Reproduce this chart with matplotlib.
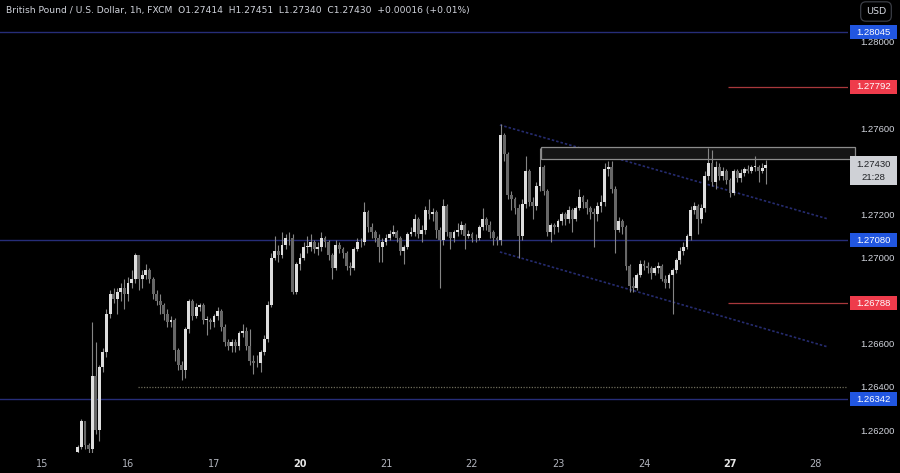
import matplotlib
matplotlib.use("Agg")
import matplotlib.pyplot as plt
import matplotlib.transforms as mtransforms
import numpy as np
from matplotlib.patches import Rectangle

# GBP/USD 1h candles, bar index counted in hours from the 15th 00:00
start_bar = 10
first_open = 1.2610
closes = [
    1.2612, 1.2624, 1.2613, 1.2611, 1.2645, 1.2620, 1.2649, 1.2656, 1.2674, 1.2683,
    1.2681, 1.2684, 1.2686, 1.2683, 1.2688, 1.2690, 1.2701, 1.2690, 1.2692, 1.2694,
    1.2690, 1.2683, 1.2680, 1.2678, 1.2674, 1.2670, 1.2671, 1.2657, 1.2650, 1.2648,
    1.2667, 1.2680, 1.2673, 1.2677, 1.2678, 1.2671, 1.2671, 1.2670, 1.2673, 1.2675,
    1.2668, 1.2661, 1.2659, 1.2661, 1.2659, 1.2665, 1.2666, 1.2659, 1.2652, 1.2651,
    1.2651, 1.2656, 1.2662, 1.2678, 1.2700, 1.2703, 1.2701, 1.2706, 1.2709, 1.2709,
    1.2684, 1.2697, 1.2700, 1.2705, 1.2705, 1.2707, 1.2704, 1.2705, 1.2709, 1.2707,
    1.2701, 1.2695, 1.2706, 1.2704, 1.2702, 1.2696, 1.2695, 1.2704, 1.2707, 1.2707,
    1.2721, 1.2714, 1.2712, 1.2709, 1.2705, 1.2707, 1.2709, 1.2711, 1.2712, 1.2709,
    1.2703, 1.2705, 1.2711, 1.2712, 1.2718, 1.2711, 1.2713, 1.2722, 1.2720, 1.2721,
    1.2713, 1.2708, 1.2724, 1.2712, 1.2709, 1.2712, 1.2713, 1.2715, 1.2710, 1.2711,
    1.2709, 1.2709, 1.2714, 1.2718, 1.2715, 1.2712, 1.2709, 1.2708, 1.2757, 1.2748,
    1.2729, 1.2727, 1.2723, 1.2710, 1.2725, 1.2740, 1.2726, 1.2724, 1.2733, 1.2742,
    1.2731, 1.2712, 1.2715, 1.2714, 1.2717, 1.2720, 1.2718, 1.2722, 1.2718, 1.2723,
    1.2728, 1.2726, 1.2723, 1.2721, 1.2720, 1.2724, 1.2726, 1.2741, 1.2742, 1.2732,
    1.2713, 1.2717, 1.2714, 1.2696, 1.2687, 1.2686, 1.2692, 1.2697, 1.2696, 1.2695,
    1.2693, 1.2695, 1.2696, 1.2690, 1.2688, 1.2692, 1.2694, 1.2699, 1.2703, 1.2705,
    1.2710, 1.2722, 1.2724, 1.2718, 1.2723, 1.2738, 1.2744, 1.2735, 1.2742, 1.2738,
    1.2740, 1.2736, 1.2730, 1.2740, 1.2737, 1.2739, 1.2741, 1.2740, 1.2742, 1.2742,
    1.2740, 1.27414, 1.27430,
]
highs = [
    1.2613, 1.2625, 1.2624, 1.2614, 1.2670, 1.2661, 1.2650, 1.2658, 1.2676, 1.2685,
    1.2686, 1.2686, 1.2688, 1.2690, 1.2691, 1.2694, 1.2702, 1.2701, 1.2694, 1.2697,
    1.2695, 1.2691, 1.2685, 1.2683, 1.2679, 1.2676, 1.2673, 1.2672, 1.2658, 1.2652,
    1.2668, 1.2681, 1.2681, 1.2679, 1.2679, 1.2679, 1.2673, 1.2672, 1.2674, 1.2677,
    1.2676, 1.2669, 1.2662, 1.2662, 1.2662, 1.2666, 1.2669, 1.2668, 1.2667, 1.2655,
    1.2655, 1.2657, 1.2664, 1.2680, 1.2702, 1.2710, 1.2706, 1.2712, 1.2711, 1.2712,
    1.2711, 1.2698, 1.2702, 1.2707, 1.2710, 1.2711, 1.2708, 1.2707, 1.2712, 1.2710,
    1.2708, 1.2702, 1.2708, 1.2707, 1.2705, 1.2703, 1.2698, 1.2705, 1.2709, 1.2709,
    1.2726, 1.2722, 1.2716, 1.2713, 1.2711, 1.2709, 1.2711, 1.2713, 1.2715, 1.2713,
    1.2710, 1.2706, 1.2712, 1.2714, 1.2720, 1.2719, 1.2715, 1.2724, 1.2727, 1.2723,
    1.2722, 1.2714, 1.2727, 1.2725, 1.2712, 1.2713, 1.2716, 1.2717, 1.2716, 1.2713,
    1.2712, 1.2711, 1.2715, 1.2723, 1.2719, 1.2717, 1.2713, 1.2710, 1.2762, 1.2758,
    1.2749, 1.2731, 1.2728, 1.2725, 1.2727, 1.2747, 1.2741, 1.2728, 1.2735, 1.2751,
    1.2743, 1.2732, 1.2716, 1.2716, 1.2718, 1.2721, 1.2721, 1.2724, 1.2723, 1.2724,
    1.2732, 1.2729, 1.2727, 1.2724, 1.2723, 1.2726, 1.2729, 1.2744, 1.2745, 1.2745,
    1.2733, 1.2719, 1.2718, 1.2715, 1.2697, 1.2691, 1.2693, 1.2699, 1.2699, 1.2698,
    1.2696, 1.2696, 1.2698, 1.2697, 1.2692, 1.2693, 1.2695, 1.2700, 1.2705, 1.2707,
    1.2711, 1.2724, 1.2726, 1.2725, 1.2725, 1.2740, 1.2751, 1.2750, 1.2745, 1.2744,
    1.2742, 1.2741, 1.2737, 1.2741, 1.2741, 1.2741, 1.2742, 1.2743, 1.2743, 1.2747,
    1.2743, 1.2744, 1.27451,
]
lows = [
    1.2608, 1.2611, 1.2611, 1.2609, 1.2609, 1.2618, 1.2615, 1.2647, 1.2654, 1.2672,
    1.2679, 1.2674, 1.2680, 1.2676, 1.2680, 1.2686, 1.2688, 1.2685, 1.2686, 1.2690,
    1.2688, 1.2681, 1.2678, 1.2674, 1.2671, 1.2668, 1.2668, 1.2652, 1.2648, 1.2643,
    1.2644, 1.2665, 1.2671, 1.2672, 1.2675, 1.2669, 1.2664, 1.2667, 1.2668, 1.2671,
    1.2666, 1.2659, 1.2657, 1.2656, 1.2656, 1.2657, 1.2663, 1.2657, 1.2650, 1.2646,
    1.2649, 1.2647, 1.2655, 1.2661, 1.2677, 1.2699, 1.2698, 1.2700, 1.2704, 1.2706,
    1.2683, 1.2683, 1.2694, 1.2699, 1.2702, 1.2703, 1.2702, 1.2701, 1.2703, 1.2705,
    1.2699, 1.2690, 1.2694, 1.2702, 1.2700, 1.2694, 1.2692, 1.2694, 1.2703, 1.2705,
    1.2706, 1.2712, 1.2709, 1.2707, 1.2698, 1.2698, 1.2706, 1.2708, 1.2710, 1.2707,
    1.2701, 1.2697, 1.2704, 1.2710, 1.2710, 1.2709, 1.2707, 1.2711, 1.2718, 1.2717,
    1.2709, 1.2686, 1.2706, 1.2710, 1.2704, 1.2707, 1.2710, 1.2711, 1.2704, 1.2709,
    1.2707, 1.2707, 1.2708, 1.2713, 1.2713, 1.2709, 1.2706, 1.2706, 1.2706, 1.2745,
    1.2727, 1.2722, 1.2720, 1.2700, 1.2708, 1.2723, 1.2724, 1.2718, 1.2722, 1.2731,
    1.2729, 1.2710, 1.2707, 1.2711, 1.2712, 1.2715, 1.2715, 1.2716, 1.2712, 1.2717,
    1.2722, 1.2723, 1.2720, 1.2718, 1.2705, 1.2717, 1.2721, 1.2724, 1.2738, 1.2730,
    1.2702, 1.2712, 1.2711, 1.2694, 1.2684, 1.2684, 1.2685, 1.2691, 1.2694, 1.2693,
    1.2690, 1.2692, 1.2693, 1.2689, 1.2686, 1.2686, 1.2674, 1.2693, 1.2697, 1.2701,
    1.2704, 1.2708, 1.2720, 1.2711, 1.2716, 1.2721, 1.2736, 1.2733, 1.2732, 1.2736,
    1.2736, 1.2734, 1.2728, 1.2729, 1.2735, 1.2735, 1.2738, 1.2739, 1.2739, 1.2740,
    1.2735, 1.2739, 1.27340,
]

day_labels = ["15", "16", "17", "20", "21", "22", "23", "24", "27", "28"]
week_start_days = ["20", "27"]
bars_per_day = 24

price_ticks = [1.262, 1.264, 1.266, 1.270, 1.272, 1.276, 1.280]
blue_levels = [1.28045, 1.27080, 1.26342]
red_levels = [1.27792, 1.26788]
red_start_bar = 191.5
dotted_level = 1.26400
dotted_start_bar = 26.8
channel_bars = [127.8, 219.4]
channel_top = [1.27615, 1.27179]
channel_bottom = [1.27026, 1.26585]
box_bars = [139.3, 227.0]
box_prices = [1.27457, 1.27513]
last_price = 1.27430
countdown = "21:28"
header = ("British Pound / U.S. Dollar, 1h, FXCM  O1.27414  H1.27451  "
          "L1.27340  C1.27430  +0.00016 (+0.01%)")

UP = "#dedede"
DOWN = "#676767"
WICK = "#858585"
BLUE_LINE = "#262d78"
CHANNEL = "#262c70"
BLUE_TAG = "#2156e0"
RED_LINE = "#a8383c"
RED_TAG = "#ee3b4b"
TEXT = "#d1d4dc"

W, H = 900, 473
fig = plt.figure(figsize=(W / 100, H / 100), dpi=100, facecolor="black")
ax = fig.add_axes([0, 20 / H, 848 / W, 453 / H])
ax.set_facecolor("black")
for s in ax.spines.values():
    s.set_visible(False)

px_per_bar = 3.583
px_per_price = 21556
ax.set_xlim(-42 / px_per_bar, (848 - 42) / px_per_bar)
ax.set_ylim(1.28 - 411 / px_per_price, 1.28 + 42 / px_per_price)

closes = np.array(closes)
opens = np.concatenate([[first_open], closes[:-1]])
highs = np.array(highs)
lows = np.array(lows)
bars = np.arange(start_bar, start_bar + len(closes))
up = closes >= opens
body_lo = np.minimum(opens, closes)
body_h = np.maximum(np.abs(closes - opens), 0.00003)

# levels and drawings
for lv in blue_levels:
    ax.axhline(lv, color=BLUE_LINE, lw=1, zorder=1)
ax.hlines(red_levels, red_start_bar, ax.get_xlim()[1], color=RED_LINE, lw=0.9, zorder=1)
ax.hlines(dotted_level, dotted_start_bar, ax.get_xlim()[1], color="#6e6d5c",
          lw=0.9, linestyles=(0, (1, 1.2)), zorder=1)
ax.plot(channel_bars, channel_top, color=CHANNEL, lw=1.2, ls=(0, (1.5, 1.2)), zorder=1)
ax.plot(channel_bars, channel_bottom, color=CHANNEL, lw=1.2, ls=(0, (1.5, 1.2)), zorder=1)
ax.add_patch(Rectangle((box_bars[0], box_prices[0]), box_bars[1] - box_bars[0],
                       box_prices[1] - box_prices[0], facecolor="#151515",
                       edgecolor="#8c8c8c", lw=0.9, zorder=1, clip_on=False))

# candles
ax.vlines(bars, lows, highs, color=WICK, lw=0.8, zorder=2)
ax.bar(bars[up], body_h[up], 0.8, body_lo[up], color=UP, zorder=3)
ax.bar(bars[~up], body_h[~up], 0.8, body_lo[~up], color=DOWN, zorder=3)

# axes ticks
ax.yaxis.tick_right()
ax.set_yticks(price_ticks)
ax.set_yticklabels([f"{p:.5f}" for p in price_ticks])
ax.tick_params(axis="y", length=0, pad=9, labelsize=6.8, labelcolor=TEXT)
ax.set_xticks([i * bars_per_day for i in range(len(day_labels))])
ax.set_xticklabels(day_labels)
ax.tick_params(axis="x", length=0, pad=4, labelsize=7, labelcolor="#b2b5be")
for t in ax.get_xticklabels():
    if t.get_text() in week_start_days:
        t.set_fontweight("bold")
        t.set_color("#e6e6e6")
for t in ax.get_yticklabels():
    t.set_fontfamily(["Liberation Sans", "DejaVu Sans"])

# price tags on the right scale
blend = mtransforms.blended_transform_factory(ax.transAxes, ax.transData)
tag_x0 = 850 / 848
tag_w = 47 / 848
tag_cx = 873.5 / 848
half = 7 / px_per_price


def tag(price, face, color="white"):
    ax.add_patch(Rectangle((tag_x0, price - half), tag_w, 2 * half, transform=blend,
                           facecolor=face, edgecolor="none", clip_on=False, zorder=5))
    ax.text(tag_cx, price, f"{price:.5f}", transform=blend, ha="center", va="center",
            fontsize=6.8, color=color, family=["Liberation Sans", "DejaVu Sans"],
            clip_on=False, zorder=6)


for lv in blue_levels:
    tag(lv, BLUE_TAG)
for lv in red_levels:
    tag(lv, RED_TAG)

cur_mid = last_price - 6 / px_per_price
ax.add_patch(Rectangle((tag_x0, cur_mid - 14.5 / px_per_price), tag_w, 29 / px_per_price,
                       transform=blend, facecolor="#cfd1d6", edgecolor="none",
                       clip_on=False, zorder=5))
ax.text(tag_cx, cur_mid + 6.5 / px_per_price, f"{last_price:.5f}", transform=blend,
        ha="center", va="center", fontsize=6.8, color="#202226",
        family=["Liberation Sans", "DejaVu Sans"], clip_on=False, zorder=6)
ax.text(tag_cx, cur_mid - 7 / px_per_price, countdown, transform=blend,
        ha="center", va="center", fontsize=6.8, color="#202226",
        family=["Liberation Sans", "DejaVu Sans"], clip_on=False, zorder=6)

fig.text(876 / W, 1 - 11.5 / H, "USD", ha="center", va="center", fontsize=6.8,
         color=TEXT, bbox=dict(boxstyle="round,pad=0.55", facecolor="black",
                               edgecolor="#3a3d45", lw=0.9))
fig.text(6 / W, 1 - 11 / H, header, ha="left", va="center", fontsize=6.6, color=TEXT)

fig.savefig("out.png", dpi=100, facecolor="black")
